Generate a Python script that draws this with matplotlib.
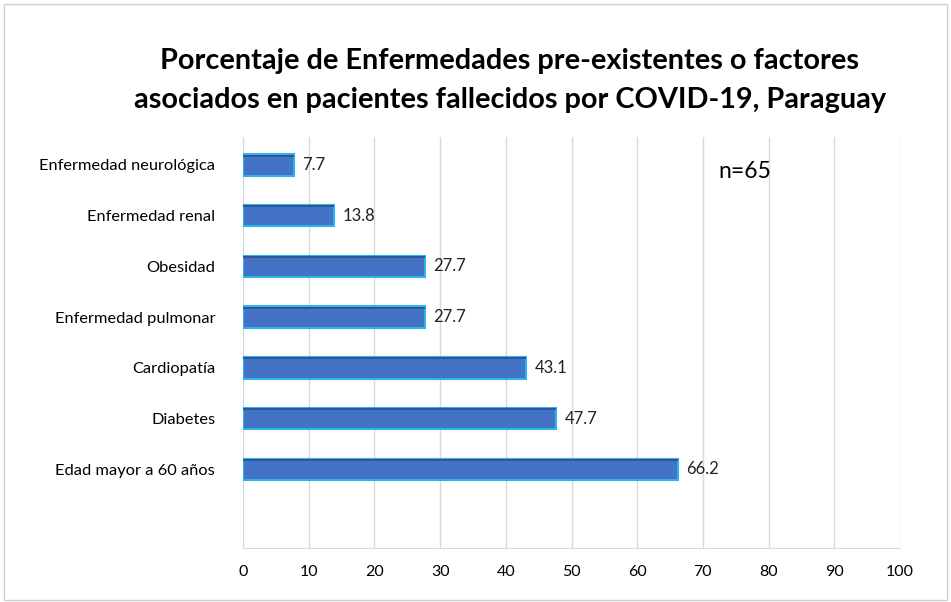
import matplotlib.pyplot as plt
from matplotlib.patches import Rectangle

categorias = ["Edad mayor a 60 años", "Diabetes", "Cardiopatía", "Enfermedad pulmonar",
              "Obesidad", "Enfermedad renal", "Enfermedad neurológica"]
porcentajes = [66.2, 47.7, 43.1, 27.7, 27.7, 13.8, 7.7]
xticks = [0, 10, 20, 30, 40, 50, 60, 70, 80, 90, 100]

plt.rcParams['font.family'] = ['Lato', 'DejaVu Sans']

fig = plt.figure(figsize=(9.51, 6.02), dpi=100)
ax = fig.add_axes([243/951, 1 - 548/602, (900 - 243)/951, (548 - 137)/602])

pos = list(range(len(categorias)))
ax.barh(pos, porcentajes, height=0.42, color='#4472C4', edgecolor='#2CB5EA', linewidth=1.5, zorder=3)
# franja oscura arriba (efecto 3D)
ax.barh([p + 0.185 for p in pos], porcentajes, height=0.04, color='#2F5597', linewidth=0, zorder=4)

for p, v in zip(pos, porcentajes):
    ax.text(v + 1.3, p, str(v), va='center', ha='left', fontsize=12, color='#222222')

ax.set_xlim(0, 100)
ax.set_ylim(-1.55, 6.55)
ax.set_xticks(xticks)
ax.set_xticklabels([str(t) for t in xticks], fontsize=11.5)
ax.set_yticks(pos)
ax.set_yticklabels(categorias, fontsize=11.8)
ax.tick_params(length=0, pad=20)
ax.tick_params(axis='x', pad=12)
ax.grid(axis='x', color='#D9D9D9', linewidth=1, zorder=0)
for s in ['top', 'right']:
    ax.spines[s].set_visible(False)
ax.spines['left'].set_color('#D9D9D9')
ax.spines['bottom'].set_color('#D9D9D9')

ax.text(0.723, 0.915, "n=65", transform=ax.transAxes, fontsize=16.5, ha='left', va='center')

fig.text(0.536, 0.899, "Porcentaje de Enfermedades pre-existentes o factores",
         ha='center', va='center', fontsize=20.8, fontweight='bold')
fig.text(0.536, 0.834, "asociados en pacientes fallecidos por COVID-19, Paraguay",
         ha='center', va='center', fontsize=20.8, fontweight='bold')

fig.patches.append(Rectangle((0.004, 0.004), 0.992, 0.99, transform=fig.transFigure,
                             fill=False, edgecolor='#D0D0D0', linewidth=1))

plt.savefig('out.png', dpi=100)
